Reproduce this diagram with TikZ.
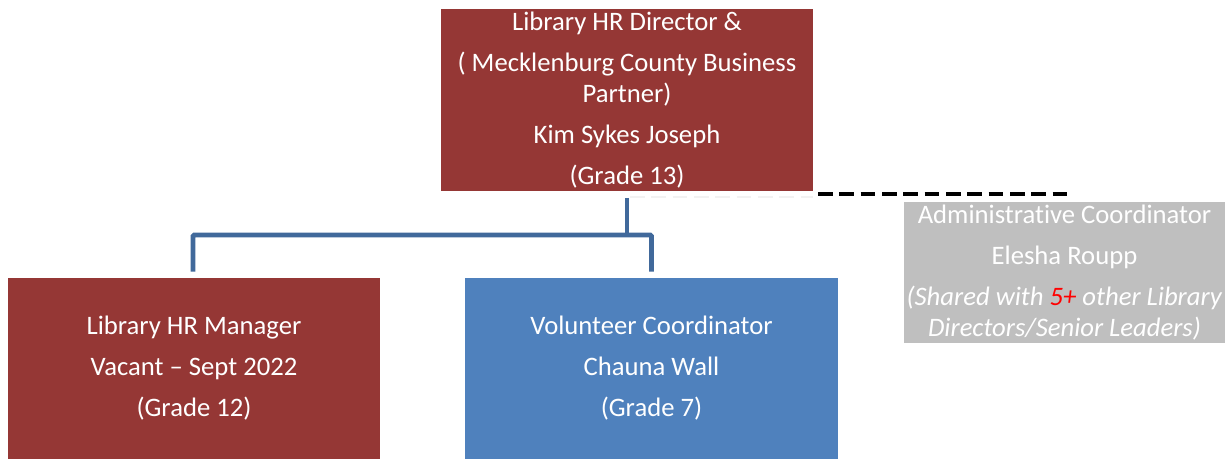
\documentclass[tikz,border=0pt]{standalone}
\usepackage{fontspec}
\setmainfont[Ligatures=NoCommon]{Carlito}
\definecolor{boxred}{HTML}{953735}
\definecolor{boxblue}{HTML}{4F81BD}
\definecolor{boxgrey}{HTML}{BFBFBF}
\definecolor{connblue}{HTML}{41699B}
\definecolor{faint}{HTML}{F2F2F2}
\tikzset{
  orgbox/.style={inner sep=0pt, text=white, align=center,
    font=\fontsize{20pt}{23.25pt}\selectfont},
  conn/.style={draw=connblue, line width=3.6pt},
  dashline/.style={draw=black, line width=3.6pt, dash pattern=on 11pt off 5pt},
  faintdash/.style={draw=faint, line width=1.5pt, dash pattern=on 11pt off 5pt}
}
\begin{document}
\begin{tikzpicture}[x=0.75pt,y=-0.75pt]
\useasboundingbox (0,0) rectangle (1225,459);
\node[orgbox, fill=boxred, minimum width=372*0.75pt, minimum height=182*0.75pt] (top) at (627,100)
  {Library HR Director \&\\[7.5pt]( Mecklenburg County Business\\Partner)\\[7.5pt]Kim Sykes Joseph\\[7.5pt](Grade 13)};
\node[orgbox, fill=boxred, minimum width=372*0.75pt, minimum height=181*0.75pt] (hrm) at (194,368.5)
  {Library HR Manager\\[7.5pt]Vacant -- Sept 2022\\[7.5pt](Grade 12)};
\node[orgbox, fill=boxblue, minimum width=373*0.75pt, minimum height=181*0.75pt] (vol) at (651.5,368.5)
  {Volunteer Coordinator\\[7.5pt]Chauna Wall\\[7.5pt](Grade 7)};
\node[orgbox, fill=boxgrey, minimum width=321*0.75pt, minimum height=141*0.75pt] (adm) at (1064.5,272.5)
  {Administrative Coordinator\\[7.5pt]Elesha Roupp\\[7.5pt]\textit{(Shared with \textcolor{red}{5+} other Library}\\\textit{Directors/Senior Leaders)}};
\coordinate (j) at (627,235);
\coordinate (fs) at (630,197);
\coordinate (fe) at (813,197);
\coordinate (ds) at (818,194);
\coordinate (de) at (1067,194);
\draw[conn] ([yshift=-5pt]top.south) -- (j);
\draw[conn, rounded corners=1pt] ([shift={(-0.75pt,4.5pt)}]hrm.north) |- (j) -| ([yshift=4.5pt]vol.north);
\draw[faintdash] (fs) -- (fe);
\draw[dashline] (ds) -- (de);
\end{tikzpicture}
\end{document}
